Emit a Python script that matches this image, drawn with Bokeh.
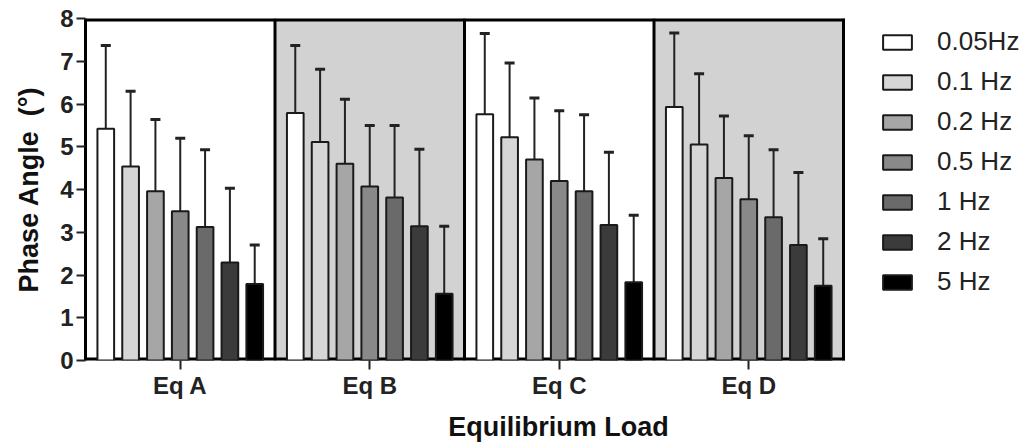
import numpy as np
from bokeh.plotting import figure
from bokeh.models import (ColumnDataSource, Whisker, TeeHead, Span, BoxAnnotation,
                          FixedTicker, Legend, LegendItem, Range1d)
from bokeh.embed import file_html
from bokeh.resources import INLINE

loads = ["Eq A", "Eq B", "Eq C", "Eq D"]
freqs = ["0.05Hz", "0.1 Hz", "0.2 Hz", "0.5 Hz", "1 Hz", "2 Hz", "5 Hz"]
colors = ["#ffffff", "#d6d6d6", "#a6a6a6", "#898989", "#6a6a6a", "#3b3b3b", "#000000"]

# mean phase angle per load (cols: frequencies)
mean_eq_a = [5.42, 4.54, 3.96, 3.49, 3.12, 2.29, 1.79]
mean_eq_b = [5.79, 5.11, 4.60, 4.07, 3.81, 3.14, 1.56]
mean_eq_c = [5.76, 5.22, 4.70, 4.20, 3.96, 3.17, 1.83]
mean_eq_d = [5.93, 5.05, 4.27, 3.77, 3.35, 2.70, 1.75]
# standard deviation (upper error bar length)
sd_eq_a = [1.95, 1.76, 1.68, 1.71, 1.81, 1.74, 0.91]
sd_eq_b = [1.58, 1.70, 1.51, 1.43, 1.69, 1.80, 1.58]
sd_eq_c = [1.89, 1.74, 1.44, 1.64, 1.79, 1.70, 1.57]
sd_eq_d = [1.73, 1.66, 1.45, 1.49, 1.58, 1.70, 1.10]

means = np.array([mean_eq_a, mean_eq_b, mean_eq_c, mean_eq_d])
sds = np.array([sd_eq_a, sd_eq_b, sd_eq_c, sd_eq_d])

FONT = "Liberation Sans"
n = len(loads)
x_lo, x_hi = -0.5, n - 0.5
# frame extends to the right edge so the legend can sit beside the panels
x_end = x_lo + (1031 - 85) / 189.5

p = figure(width=1031, height=445, output_backend="svg", toolbar_location=None,
           x_range=Range1d(x_lo, x_end), y_range=Range1d(0, 8),
           min_border_left=85, min_border_right=0, min_border_top=18,
           min_border_bottom=85)
p.background_fill_color = "white"
p.border_fill_color = "white"
p.outline_line_color = None
p.grid.visible = False

# shaded panels (Eq B and Eq D)
for g in (1, 3):
    p.add_layout(BoxAnnotation(left=g - 0.5, right=g + 0.5, fill_color="#d2d2d2",
                               fill_alpha=1.0, line_color=None, level="underlay"))
# panel dividers and right border
for g in range(1, n + 1):
    p.add_layout(Span(location=g - 0.5, dimension="height", line_color="black",
                      line_width=3))
# top and bottom borders of the panel block
p.segment(x0=[x_lo, x_lo], y0=[8, 0], x1=[x_hi + 0.008, x_hi + 0.008], y1=[8, 0],
          line_color="black", line_width=6)

step = 0.131
bw = 0.088
items = []
xg = np.arange(n)
for i, f in enumerate(freqs):
    x = xg + (i - (len(freqs) - 1) / 2) * step
    src = ColumnDataSource(dict(x=x, top=means[:, i], upper=means[:, i] + sds[:, i]))
    w = Whisker(source=src, base="x", lower="top", upper="upper", line_color="#222222",
                line_width=2, lower_head=None,
                upper_head=TeeHead(size=10, line_width=3, line_color="#222222"))
    p.add_layout(w)
    r = p.vbar(x="x", top="top", width=bw, bottom=0, source=src, fill_color=colors[i],
               line_color="#1a1a1a", line_width=2)
    items.append(LegendItem(label=f, renderers=[r]))

legend = Legend(items=items, location=(794, 63), border_line_color=None,
                background_fill_alpha=0, padding=0, margin=0, spacing=9,
                glyph_width=36, glyph_height=18, label_height=28, label_standoff=22,
                label_text_font=FONT, label_text_font_size="26px",
                label_text_color="#222222")
p.add_layout(legend, "center")

# axes
p.xaxis.ticker = FixedTicker(ticks=list(range(n)))
p.xaxis.major_label_overrides = {i: l for i, l in enumerate(loads)}
p.yaxis.ticker = FixedTicker(ticks=list(range(0, 9)))
for ax in (p.xaxis[0], p.yaxis[0]):
    ax.axis_line_width = 3
    ax.axis_line_color = "black"
    ax.major_tick_line_width = 2
    ax.major_tick_line_color = "#222222"
    ax.major_tick_out = 9
    ax.major_tick_in = 0
    ax.minor_tick_line_color = None
    ax.major_label_text_font = FONT
    ax.major_label_text_font_style = "bold"
    ax.major_label_text_font_size = "24px"
    ax.major_label_text_color = "#222222"
    ax.axis_label_text_font = FONT
    ax.axis_label_text_font_style = "bold"
    ax.axis_label_text_font_size = "27px"
    ax.axis_label_text_color = "#111111"
p.xaxis.axis_line_color = None
p.xaxis.axis_label = "Equilibrium Load"
p.yaxis.axis_label = "Phase Angle\u00a0\u00a0(°)"
p.xaxis.major_label_standoff = 2
p.xaxis.axis_label_standoff = 10
p.yaxis.major_label_standoff = 3
p.yaxis.axis_label_standoff = 13

open("out.html", "w").write(file_html(p, INLINE))
